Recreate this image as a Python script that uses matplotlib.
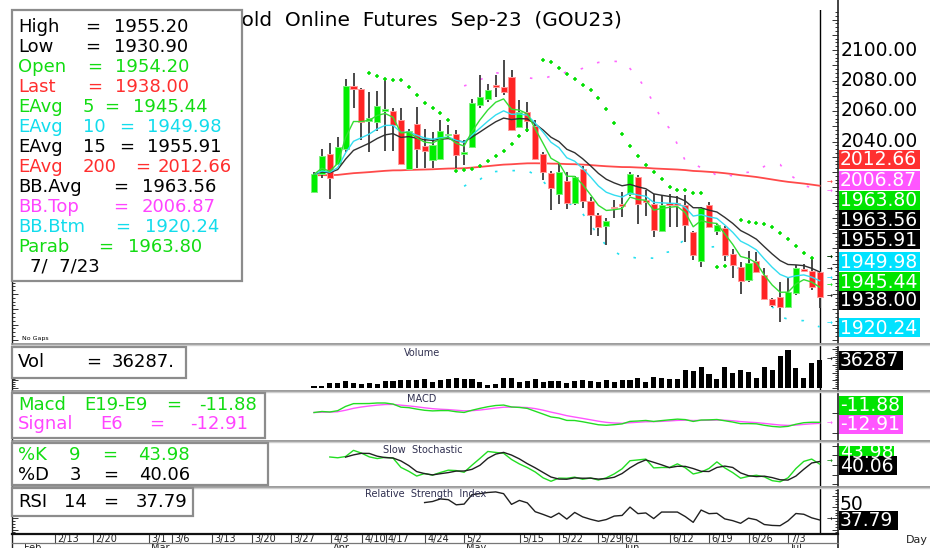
import numpy as np
import matplotlib
matplotlib.use('Agg')
import matplotlib.pyplot as plt
from matplotlib.patches import Rectangle

# ---------------- data ----------------
opens = [2006.6, 2018.5, 2031.8, 2025.1, 2034.9, 2076.4, 2074.4, 2053.4, 2053.0, 2060.0,
         2060.0, 2054.1, 2022.0, 2051.3, 2037.1, 2027.9, 2028.3, 2044.1, 2044.9, 2031.8,
         2036.2, 2063.9, 2067.9, 2077.2, 2075.9, 2082.0, 2049.7, 2059.5, 2050.2, 2031.6,
         2019.5, 2005.6, 2014.3, 1999.5, 2022.0, 2001.2, 1991.8, 1984.8, 1997.3, 1998.4,
         2005.6, 2016.9, 2001.6, 1998.8, 1981.3, 2000.0, 1999.5, 1998.4, 1980.9, 1961.6,
         1998.4, 1981.3, 1983.6, 1966.0, 1957.4, 1949.2, 1961.6, 1952.5, 1936.7, 1938.2,
         1931.7, 1940.5, 1956.1, 1955.1, 1954.2]
highs = [2020.0, 2034.9, 2038.8, 2043.1, 2080.7, 2084.9, 2075.0, 2072.7, 2072.9, 2081.4,
         2061.8, 2061.8, 2048.2, 2062.4, 2048.0, 2046.4, 2054.1, 2050.8, 2047.5, 2041.0,
         2067.7, 2083.6, 2078.0, 2083.6, 2093.4, 2086.9, 2067.2, 2066.1, 2054.1, 2033.1,
         2020.7, 2025.2, 2020.2, 2017.4, 2023.9, 2003.4, 1993.3, 1989.6, 2001.6, 2007.1,
         2020.2, 2018.0, 2008.2, 2005.6, 2004.9, 2005.6, 2004.3, 2004.9, 1981.3, 1997.1,
         2000.1, 1985.9, 1984.6, 1969.3, 1961.0, 1968.2, 1967.5, 1957.0, 1937.4, 1947.9,
         1950.5, 1959.0, 1959.5, 1964.3, 1955.2]
lows = [2006.2, 2015.9, 2002.1, 2024.6, 2033.4, 2061.8, 2041.0, 2033.3, 2046.9, 2033.8,
        2033.8, 2024.6, 2021.3, 2022.4, 2022.4, 2022.4, 2027.9, 2042.3, 2022.4, 2024.6,
        2035.7, 2062.0, 2066.0, 2069.4, 2070.5, 2046.9, 2048.9, 2046.4, 2027.9, 2014.8,
        1994.8, 1999.0, 1995.5, 1998.4, 1996.2, 1978.7, 1978.0, 1972.1, 1989.6, 1990.7,
        2004.3, 1985.9, 1991.1, 1977.2, 1980.7, 1984.1, 1984.1, 1974.3, 1962.0, 1957.5,
        1983.3, 1978.7, 1961.8, 1950.3, 1940.0, 1947.9, 1953.8, 1936.1, 1931.5, 1921.6,
        1930.8, 1939.3, 1954.4, 1942.6, 1930.9]
closes = [2018.5, 2030.5, 2016.3, 2036.1, 2076.4, 2074.2, 2053.0, 2055.7, 2063.3, 2061.1,
          2050.8, 2025.2, 2046.9, 2035.1, 2034.0, 2037.7, 2046.9, 2044.9, 2031.2, 2033.3,
          2065.4, 2069.4, 2073.8, 2075.9, 2072.3, 2047.5, 2059.5, 2053.4, 2028.5, 2019.7,
          2009.5, 2020.2, 1999.5, 2016.9, 2001.2, 1991.8, 1984.1, 1988.1, 1996.2, 1997.7,
          2018.5, 1998.8, 2000.5, 1982.0, 1998.4, 1998.4, 1998.4, 1985.2, 1965.6, 1996.2,
          1984.1, 1985.2, 1965.6, 1959.0, 1948.7, 1960.5, 1954.6, 1936.5, 1932.8, 1931.7,
          1941.3, 1957.3, 1955.1, 1944.6, 1938.0]
volume = [3000, 3400, 7300, 7300, 9400, 6400, 5100, 6400, 5100, 9400,
          9400, 10700, 10700, 10700, 12000, 7700, 10700, 11500, 12800, 11500,
          12000, 7700, 4300, 5100, 12800, 12800, 8500, 9800, 12000, 7700,
          9800, 9400, 6400, 9400, 10700, 9800, 7700, 10700, 7700, 10700,
          10700, 12800, 7700, 14100, 13700, 11500, 12000, 23500, 22600, 26900,
          17900, 12000, 26900, 19200, 23100, 21400, 13700, 26900, 23500, 41400,
          48700, 26500, 13700, 32000, 36287]
# parabolic SAR dots as read (nan = no dot)
nan = np.nan
parab = [nan, nan, nan, nan, nan, nan, nan, 2085.1, 2083.0, 2080.8,
         2080.3, 2080.3, 2075.7, 2070.3, 2065.2, 2062.2, 2058.5, 2054.1, 2020.9, 2021.3,
         2022.0, 2023.7, 2027.2, 2030.5, 2034.0, 2038.4, 2043.8, 2047.5, nan, 2093.4,
         2091.9, 2088.0, 2084.5, 2080.8, 2077.2, 2073.8, 2068.3, 2061.1, 2051.9, 2044.7,
         2037.2, 2030.7, 2024.6, 2019.8, 2015.2, 2010.4, 2008.2, 2008.2, 2006.0, 2006.0,
         nan, 1957.5, 1958.3, nan, 1988.5, 1987.0, 1986.4, 1985.7, 1984.1, 1980.2,
         1975.9, 1971.5, 1967.2, 1963.8, nan]
ema200_start = 2017.8

tick_labels = ['2/13', '2/20', '3/1', '3/6', '3/13', '3/20', '3/27', '4/3', '4/10', '4/17',
               '4/24', '5/2', '5/15', '5/22', '5/29', '6/1', '6/12', '6/19', '6/26', '7/3']
tick_pos = [-32.8, -28.0, -20.9, -18.0, -12.9, -7.8, -2.9, 2.15, 6.1, 9.1,
            14.05, 19.0, 26.1, 31.0, 35.9, 39.0, 45.1, 50.0, 55.1, 60.0]
month_labels = ['Feb', 'Mar', 'Apr', 'May', 'Jun', 'Jul']
month_pos = [-37.0, -20.9, 2.15, 19.0, 39.0, 60.0]

legend_rows = [
    ('High', '=', '1955.20', 'black'),
    ('Low', '=', '1930.90', 'black'),
    ('Open', '=', '1954.20', 'green'),
    ('Last', '=', '1938.00', 'red'),
    ('EAvg  5', '=', '1945.44', 'green'),
    ('EAvg  10', '=', '1949.98', 'cyan'),
    ('EAvg  15', '=', '1955.91', 'black'),
    ('EAvg  200', '=', '2012.66', 'red'),
    ('BB.Avg', '=', '1963.56', 'black'),
    ('BB.Top', '=', '2006.87', 'magenta'),
    ('BB.Btm', '=', '1920.24', 'cyan'),
    ('Parab', '=', '1963.80', 'green'),
]
legend_date = '7/  7/23'
price_ticks = [2040, 2060, 2080, 2100]
right_labels = [('2012.66', 'red'), ('2006.87', 'magenta'), ('1963.80', 'green'),
                ('1963.56', 'black'), ('1955.91', 'black'), ('1949.98', 'cyan'),
                ('1945.44', 'green'), ('1938.00', 'black'), ('1920.24', 'cyan')]
right_values = [2012.66, 2006.87, 1963.80, 1963.56, 1955.91, 1949.98, 1945.44, 1938.00, 1920.24]

# ---------------- style ----------------
COL = {'black': '#000000', 'green': '#12dc12', 'red': '#ff2e2e', 'cyan': '#12dcec',
       'magenta': '#ff44ff'}
BOX = {'black': '#000000', 'green': '#00e400', 'red': '#ff3030', 'cyan': '#00e2ff',
       'magenta': '#ff55ff'}
W, H = 930, 548
fig = plt.figure(figsize=(W / 100, H / 100), dpi=100)
fig.patch.set_facecolor('white')
X0, X1 = 12, 838
SP = 7.9           # px per candle
C0 = 314           # px of first candle
xmin = (X0 - C0) / SP
xmax = (X1 - C0) / SP


def add_ax(y0, y1):
    a = fig.add_axes([X0 / W, 1 - y1 / H, (X1 - X0) / W, (y1 - y0) / H])
    a.set_xlim(xmin, xmax)
    for s in a.spines.values():
        s.set_visible(False)
    a.set_xticks([])
    a.tick_params(axis='y', which='both', direction='in', left=True, right=True,
                  labelleft=False, labelright=False, width=0.7, color='#333333')
    a.tick_params(axis='y', which='major', length=4)
    a.tick_params(axis='y', which='minor', length=2)
    a.patch.set_alpha(0)
    return a


def marker(a, value, col):
    a.annotate('\u2192', (1.0, value), xycoords=('axes fraction', 'data'),
               xytext=(-6, 0), textcoords='offset points', fontsize=5, color=col,
               ha='center', va='center', annotation_clip=False)


o = np.array(opens); h = np.array(highs); l = np.array(lows); c = np.array(closes)
v = np.array(volume)
n = len(c)
idx = np.arange(n)


def ema(x, per, seed=None):
    a = 2.0 / (per + 1)
    out = np.empty(len(x))
    prev = x[0] if seed is None else seed
    for i, val in enumerate(x):
        prev = prev + a * (val - prev)
        out[i] = prev
    return out


def sma(x, per, start=0):
    out = np.full(len(x), np.nan)
    for i in range(start + per - 1, len(x)):
        out[i] = np.mean(x[i - per + 1:i + 1])
    return out


# ---------------- main price panel ----------------
ax = add_ax(10, 343)
ax.set_ylim(2100 - 293 / 1.525, 2100 + 40 / 1.525)
ax.yaxis.set_major_locator(matplotlib.ticker.MultipleLocator(10))
ax.yaxis.set_minor_locator(matplotlib.ticker.MultipleLocator(2.5))

ax.axvline(n - 1, color='black', lw=1.0, zorder=1)

# indicators
e5 = ema(c, 5); e10 = ema(c, 10); e15 = ema(c, 15); e200 = ema(c, 200, ema200_start)
ax.plot(idx, e200, color='#ff4a4a', lw=1.3, zorder=2)
bb_mid = sma(c, 20)
bb_sd = np.array([np.std(c[max(0, i - 19):i + 1]) if i >= 19 else np.nan for i in range(n)])
ax.plot(idx, bb_mid + 2 * bb_sd, color='#ff66ff', lw=1.2, ls=(0, (1.5, 9)), zorder=2)
ax.plot(idx, bb_mid - 2 * bb_sd, color='#22e0f0', lw=1.2, ls=(0, (1.5, 9)), zorder=2)

# candles
up = c >= o
body_lo = np.minimum(o, c)
body_h = np.maximum(np.abs(c - o), 1.1)
ax.vlines(idx, l, h, color='#3a3a3a', lw=1.3, zorder=3)
ax.bar(idx[up], body_h[up], bottom=body_lo[up], width=0.78, color='#00ee00',
       edgecolor='#7cf07c', linewidth=0.7, zorder=4)
ax.bar(idx[~up], body_h[~up], bottom=body_lo[~up], width=0.78, color='#ff2424',
       edgecolor='#ff9a9a', linewidth=0.7, zorder=4)

ax.plot(idx, e15, color='#303030', lw=1.0, zorder=5)
ax.plot(idx, e10, color='#33ddf0', lw=1.0, zorder=5)
ax.plot(idx, e5, color='#33dd33', lw=1.0, zorder=5)
ax.plot(idx, parab, ls='none', marker='+', ms=2.8, mew=1.1, color='#00e000', zorder=6)

for p in price_ticks:
    ax.annotate('%.2f' % p, (1.0, p), xycoords=('axes fraction', 'data'),
                xytext=(2, 0), textcoords='offset points', fontsize=13.5,
                va='center', ha='left', annotation_clip=False)
for (txt, col), val in zip(right_labels, right_values):
    marker(ax, val, BOX[col] if col != 'black' else '#000000')

# ---------------- volume ----------------
axv = add_ax(345, 390)
axv.set_ylim(-1.7 * 1282, 43.3 * 1282)
axv.yaxis.set_major_locator(matplotlib.ticker.MultipleLocator(10000))
axv.yaxis.set_minor_locator(matplotlib.ticker.MultipleLocator(2500))
axv.axvline(n - 1, color='black', lw=1.0, zorder=1)
axv.bar(idx, v, width=0.65, color='black', zorder=2)
marker(axv, v[-1], 'black')

# ---------------- MACD ----------------
axm = add_ax(392, 440)
macd = ema(c, 9) - ema(c, 19)
sig = ema(macd, 6)
mn, mx = min(macd.min(), sig.min()), max(macd.max(), sig.max())
k = 24.0 / (mx - mn)
axm.set_ylim(mn - 13 / k, mx + 11 / k)
axm.axvline(n - 1, color='black', lw=1.0, zorder=1)
axm.plot(idx, sig, color='#ff55ff', lw=1.0)
axm.plot(idx, macd, color='#22dd22', lw=1.0)
marker(axm, sig[-1], '#ff55ff')

# ---------------- slow stochastic ----------------
axs = add_ax(442, 486)
fk = np.empty(n)
for i in range(n):
    j = max(0, i - 8)
    hh = h[j:i + 1].max(); ll = l[j:i + 1].min()
    fk[i] = 100 * (c[i] - ll) / (hh - ll)
sk = sma(fk, 3)
sd = sma(np.nan_to_num(sk, nan=0.0), 3, start=2)
axs.set_ylim(-5, 110)
axs.yaxis.set_major_locator(matplotlib.ticker.MultipleLocator(25))
axs.axvline(n - 1, color='black', lw=1.0, zorder=1)
axs.plot(idx, sk, color='#22dd22', lw=1.0)
axs.plot(idx, sd, color='#202020', lw=1.0)
marker(axs, sd[-1], '#008800')

# ---------------- RSI ----------------
axr = add_ax(488, 534)
d = np.diff(c)
rsi = np.full(n, np.nan)
ag = np.mean(np.clip(d[:14], 0, None)); al = np.mean(np.clip(-d[:14], 0, None))
rsi[14] = 100 - 100 / (1 + ag / al)
for i in range(15, n):
    g = max(d[i - 1], 0); ls_ = max(-d[i - 1], 0)
    ag = (ag * 13 + g) / 14; al = (al * 13 + ls_) / 14
    rsi[i] = 100 - 100 / (1 + ag / al)
axr.set_ylim(26, 67)
axr.yaxis.set_major_locator(matplotlib.ticker.MultipleLocator(10))
axr.yaxis.set_minor_locator(matplotlib.ticker.MultipleLocator(2.5))
axr.axvline(n - 1, color='black', lw=1.0, zorder=1)
axr.plot(idx, rsi, color='#202020', lw=1.0)
marker(axr, rsi[-1], 'black')

# ---------------- date axis ----------------
axd = fig.add_axes([X0 / W, 0, (X1 - X0) / W, 14 / H])
axd.set_xlim(xmin, xmax); axd.set_ylim(0, 1); axd.axis('off')
for lab, pos in zip(tick_labels, tick_pos):
    axd.plot([pos, pos], [0.38, 1.0], color='#444444', lw=0.8)
    axd.annotate(lab, (pos, 0.66), xytext=(1.5, 0), textcoords='offset points',
                 fontsize=7, va='center', ha='left', color='#222222')
for lab, pos in zip(month_labels, month_pos):
    axd.annotate(lab, (pos, 0.33), xytext=(1.5, 0), textcoords='offset points',
                 fontsize=7, va='top', ha='left', color='#222222', annotation_clip=False)

# ---------------- overlay (pixel coordinates) ----------------
ov = fig.add_axes([0, 0, 1, 1], zorder=20)
ov.set_xlim(0, W); ov.set_ylim(H, 0); ov.axis('off')

# frame lines
ov.plot([X0, X0], [10, H], color='#222222', lw=1.0)
ov.plot([X1, X1], [0, H], color='#222222', lw=1.2)
for yy in (344, 391, 441, 487):
    ov.plot([X0, W], [yy, yy], color='#8a8a8a', lw=1.2)
    ov.plot([X0, W], [yy + 1.3, yy + 1.3], color='#cfcfcf', lw=1.0)
ov.plot([X0, X1], [534, 534], color='#111111', lw=1.6)
ov.plot([X0, X1], [542.7, 542.7], color='#777777', lw=0.9)

# title (partly hidden by the legend box)
ov.text(226, 20.5, 'Gold  Online  Futures  Sep-23  (GOU23)', fontsize=14.5, va='center',
        ha='left', zorder=1)


def box(x0, y0, x1, y1):
    ov.add_patch(Rectangle((x0, y0), x1 - x0, y1 - y0, facecolor='white',
                           edgecolor='#8c8c8c', lw=1.6, zorder=5))


# main legend box
box(12, 10, 242, 281)
eq_c = [93, 93, 95, 95, 112, 127, 127, 143, 121, 121, 123, 106]
val_x = [114, 114, 115, 115, 133, 147, 147, 158, 142, 142, 145, 128]
for i, (lab, eq, val, col) in enumerate(legend_rows):
    yy = 26.5 + 20 * i
    cc = COL[col]
    parts = lab.split('  ')
    ov.text(18, yy, parts[0], color=cc, fontsize=13, va='center', zorder=6)
    if len(parts) > 1:
        ov.text(83, yy, parts[1], color=cc, fontsize=13, va='center', zorder=6)
    ov.text(eq_c[i], yy, eq, color=cc, fontsize=13, va='center', ha='center', zorder=6)
    ov.text(val_x[i], yy, val, color=cc, fontsize=13, va='center', zorder=6)
ov.text(30, 266.5, legend_date, color='black', fontsize=13, va='center', zorder=6)
ov.text(22, 338.5, 'No Gaps', fontsize=4.5, va='center', zorder=6)

renderer = fig.canvas.get_renderer()


def spread_row(y, tokens, col, x_end, x_start=18):
    ts = [ov.text(0, y, t, color=col, fontsize=13, va='center', zorder=6) for t in tokens]
    ws = [t.get_window_extent(renderer).width for t in ts]
    gap = (x_end - x_start - sum(ws)) / (len(ts) - 1)
    x = x_start
    for t, w in zip(ts, ws):
        t.set_x(x)
        x += w + gap


# lower legend boxes
box(12, 347, 186, 378)
for x, s in [(18, 'Vol'), (86, '='), (112, '36287.')]:
    ov.text(x, 362, s, color='black', fontsize=13, va='center', zorder=6)

box(12, 393, 265, 438)
spread_row(405, ['Macd', 'E19-E9', '=', '-11.88'], COL['green'], 257)
spread_row(424, ['Signal', 'E6', '=', '-12.91'], COL['magenta'], 248)

box(12, 443, 268, 485)
spread_row(455, ['%K', '9', '=', '43.98'], COL['green'], 190)
spread_row(475, ['%D', '3', '=', '40.06'], 'black', 190)

box(12, 488, 193, 516)
spread_row(502, ['RSI', '14', '=', '37.79'], 'black', 187)

# panel titles
ov.text(422, 353.5, 'Volume', fontsize=7, color='#303050', ha='center', va='center')
ov.text(422, 399.5, 'MACD', fontsize=7, color='#303050', ha='center', va='center')
ov.text(423, 450, 'Slow  Stochastic', fontsize=7, color='#303050', ha='center', va='center')
ov.text(426, 494, 'Relative  Strength  Index', fontsize=7, color='#303050', ha='center', va='center')


def tag(txt, col, yc, x1=920, hgt=19, fs=13.5):
    ov.add_patch(Rectangle((838.5, yc - hgt / 2), x1 - 838.5, hgt, facecolor=BOX[col],
                           edgecolor='none', zorder=7))
    ov.text(840, yc + 0.5, txt, color='white', fontsize=fs, va='center', ha='left', zorder=8)


right_y = [159, 180, 200, 219.5, 239.5, 261.5, 281.5, 300, 327.5]
for (txt, col), yc in zip(right_labels, right_y):
    tag(txt, col, yc)

tag('36287', 'black', 360, x1=903)
tag('-11.88', 'green', 405, x1=903)
tag('-12.91', 'magenta', 424, x1=903)
ov.add_patch(Rectangle((838.5, 445.5), 55, 12, facecolor=BOX['green'], edgecolor='none', zorder=7))
ov.text(840, 452, '43.98', color='white', fontsize=13.5, va='center', zorder=7.5, clip_on=True)
tag('40.06', 'black', 465.5, x1=897)
ov.text(840, 505, '50', color='black', fontsize=13.5, va='center', zorder=6)
tag('37.79', 'black', 520.5, x1=898)
ov.text(906, 540, 'Day', fontsize=8, color='#222222', va='center')

fig.savefig('out.png', dpi=100)
